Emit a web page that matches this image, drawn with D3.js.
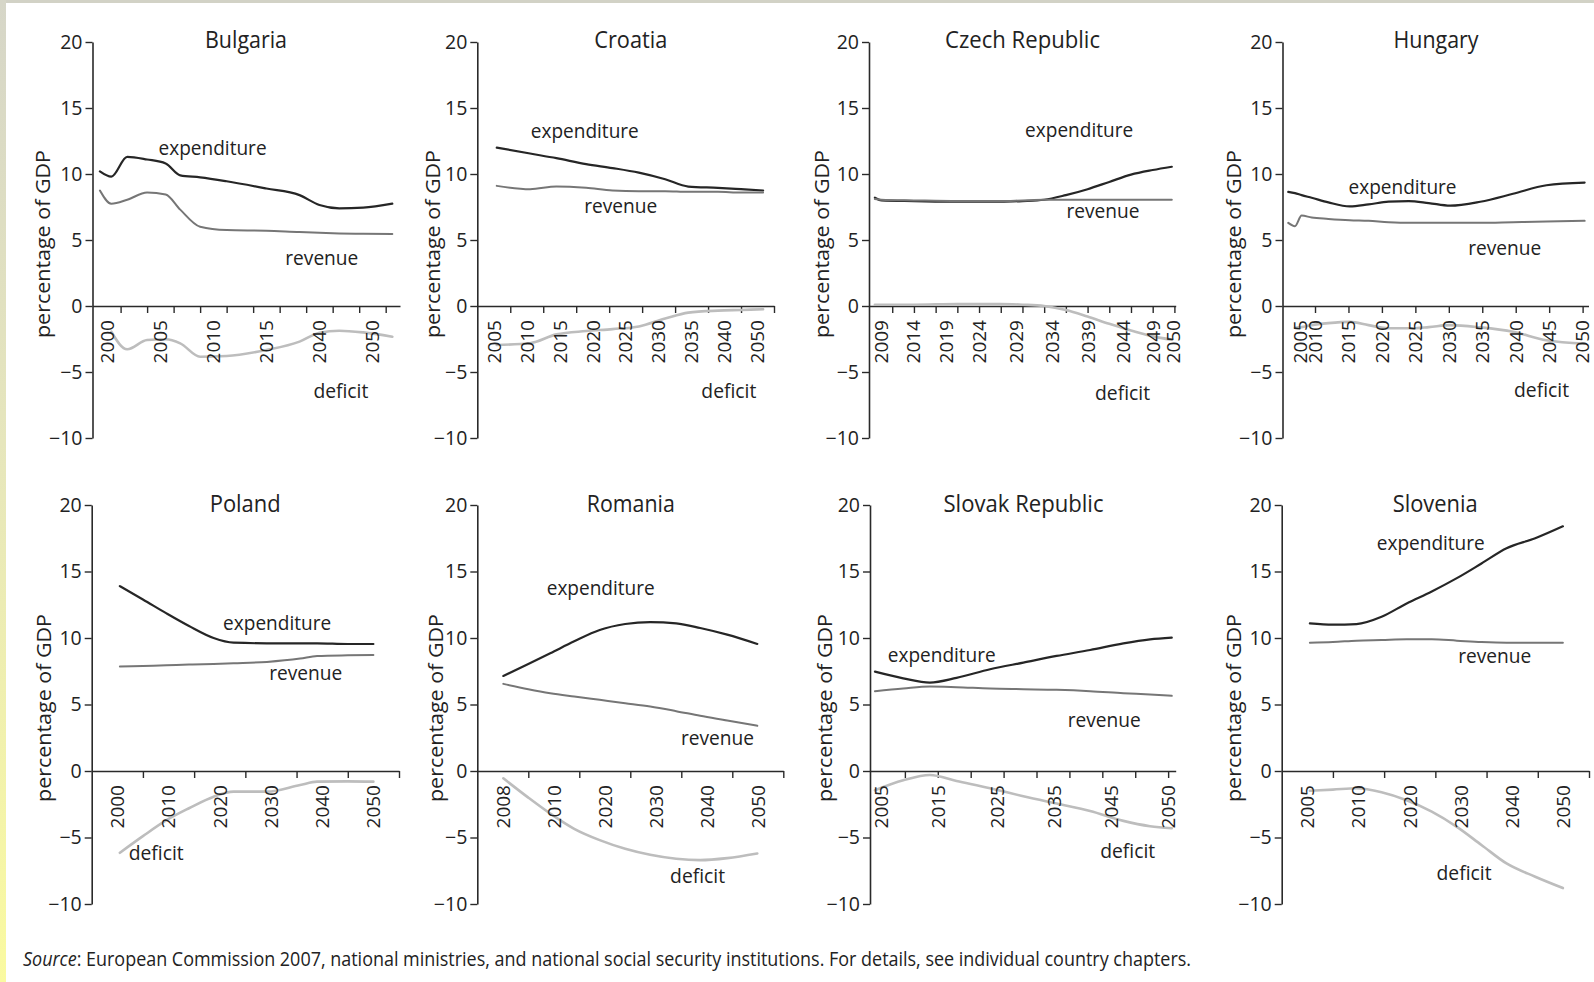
<!DOCTYPE html>
<html><head><meta charset="utf-8">
<script src="https://cdn.jsdelivr.net/npm/d3@7"></script>
<style>
html,body{margin:0;padding:0;background:#fff;}
svg{display:block;font-family:"Open Sans","Noto Sans",sans-serif;}
</style></head>
<body><svg id="c" width="1594" height="982"></svg>
<script>
// ---------------- DATA ----------------
const countries = ["Bulgaria","Croatia","Czech Republic","Hungary","Poland","Romania","Slovak Republic","Slovenia"];
const seriesNames = ["expenditure","revenue","deficit"];
const yTicks = [-10,-5,0,5,10,15,20];

// Bulgaria (x in category slots)
const bgX   = [-0.28, 0.15, 0.75, 1.5, 2.2, 2.75, 3.5, 4.5, 6.0, 7.25, 8.0, 8.75, 9.65, 10.75];
const bgExp = [10.2, 9.8, 11.3, 11.1, 10.8, 9.9, 9.75, 9.45, 8.9, 8.4, 7.65, 7.4, 7.45, 7.75];
const bgRev = [8.75, 7.75, 8.05, 8.6, 8.45, 7.3, 6.0, 5.75, 5.7, 5.6, 5.55, 5.5, 5.47, 5.45];
const bgDef = [null, -1.95, -3.28, -2.58, -2.52, -2.83, -3.84, -3.79, -3.33, -2.7, -2.02, -1.87, -2.0, -2.33];
const bgTicks = [0.5,1.5,2.5,3.5,4.5,5.5,6.5,7.5,8.5,9.5,10.5];
const bgLabels = ["2000","2005","2010","2015","2040","2050"];
const bgLabelPos = [0,2,4,6,8,10];

// Croatia
const hrX   = [0.09, 1.1, 1.9, 2.8, 3.6, 4.4, 5.2, 5.9, 6.8, 7.5, 8.17];
const hrExp = [12.0, 11.55, 11.2, 10.75, 10.45, 10.1, 9.6, 9.05, 8.95, 8.85, 8.75];
const hrRev = [9.1, 8.85, 9.05, 8.95, 8.75, 8.7, 8.7, 8.65, 8.65, 8.6, 8.6];
const hrDef = [-2.95, -2.82, -2.15, -1.9, -1.75, -1.55, -0.95, -0.5, -0.35, -0.3, -0.25];
const hrTicks = [0.5,1.5,2.5,3.5,4.5,5.5,6.5,7.5,8.5];
const hrLabels = ["2005","2010","2015","2020","2025","2030","2035","2040","2050"];
const hrLabelPos = [0,1,2,3,4,5,6,7,8];

// Czech Republic
const czX   = [0.2, 0.5, 2, 4, 6, 7, 8, 9, 10, 11, 12, 13, 13.88];
const czExp = [8.2, 8.0, 7.95, 7.9, 7.9, 7.95, 8.05, 8.4, 8.85, 9.4, 9.95, 10.3, 10.55];
const czRev = [8.1, 8.05, 8.0, 7.95, 7.95, 8.0, 8.05, 8.05, 8.05, 8.05, 8.05, 8.05, 8.05];
const czDef = [0.1, 0.1, 0.1, 0.15, 0.15, 0.1, 0.0, -0.3, -0.8, -1.35, -1.85, -2.3, -2.55];
const czTicks = [1,2,3,4,5,6,7,8,9,10,11,12,13,14];
const czLabels = ["2009","2014","2019","2024","2029","2034","2039","2044","2049","2050"];
const czLabelPos = [0.51, 1.97, 3.47, 5.01, 6.73, 8.39, 10.03, 11.65, 13.03, 13.95];

// Hungary (x in years)
const huX   = [2006, 2007, 2008, 2009.5, 2012, 2015.2, 2018, 2021, 2024, 2027, 2030.2, 2034.7, 2039.6, 2044.6, 2050.3];
const huExp = [8.65, 8.55, 8.4, 8.2, 7.85, 7.55, 7.7, 7.9, 7.95, 7.8, 7.6, 7.9, 8.5, 9.15, 9.35];
const huRev = [6.3, 6.05, 6.85, 6.7, 6.6, 6.5, 6.45, 6.35, 6.3, 6.3, 6.3, 6.3, 6.35, 6.4, 6.45];
const huDef = [null, -1.65, -1.6, -1.45, -1.3, -1.2, -1.45, -1.69, -1.69, -1.6, -1.45, -1.62, -1.95, -2.6, -2.85];
const huTicks = [2010,2015,2020,2025,2030,2035,2040,2045,2050];
const huLabels = ["2005","2010","2015","2020","2025","2030","2035","2040","2045","2050"];
const huLabelPos = [2007.85,2010,2015,2020,2025,2030,2035,2040,2045,2050];

// Poland
const plX   = [0.05, 0.5, 0.96, 1.4, 1.88, 2.27, 2.92, 3.57, 3.9, 4.5, 5.0];
const plExp = [13.9, 12.9, 11.85, 10.9, 10.0, 9.65, 9.6, 9.6, 9.6, 9.55, 9.55];
const plRev = [7.85, 7.9, 7.95, 8.0, 8.05, 8.1, 8.2, 8.45, 8.65, 8.7, 8.72];
const plDef = [-6.15, -4.9, -3.7, -2.8, -1.93, -1.55, -1.55, -1.05, -0.8, -0.78, -0.8];
const plTicks = [0.5,1.5,2.5,3.5,4.5,5.5];
const plLabels = ["2000","2010","2020","2030","2040","2050"];
const plLabelPos = [0,1,2,3,4,5];

// Romania
const roX   = [0.01, 0.5, 0.93, 1.4, 1.9, 2.4, 2.89, 3.4, 3.87, 4.4, 4.99];
const roExp = [7.15, 8.05, 8.85, 9.75, 10.6, 11.05, 11.2, 11.1, 10.75, 10.25, 9.55];
const roRev = [6.55, 6.15, 5.85, 5.6, 5.35, 5.1, 4.85, 4.5, 4.15, 3.8, 3.4];
const roDef = [-0.55, -2.0, -3.2, -4.35, -5.2, -5.85, -6.3, -6.6, -6.7, -6.55, -6.2];
const roTicks = [0.5,1.5,2.5,3.5,4.5,5.5];
const roLabels = ["2008","2010","2020","2030","2040","2050"];
const roLabelPos = [0,1,2,3,4,5];

// Slovak Republic
const skX   = [0.09, 0.95, 1.76, 2.57, 3.59, 4.6, 5.61, 6.63, 7.64, 8.45, 9.11];
const skExp = [7.47, 6.97, 6.65, 7.0, 7.65, 8.15, 8.65, 9.1, 9.6, 9.9, 10.03];
const skRev = [6.0, 6.2, 6.35, 6.3, 6.2, 6.15, 6.1, 6.0, 5.85, 5.75, 5.65];
const skDef = [-1.45, -0.7, -0.3, -0.75, -1.3, -1.9, -2.45, -3.0, -3.75, -4.15, -4.3];
const skTicks = [1,2,3,4,5,6,7,8,9];
const skLabels = ["2005","2015","2025","2035","2045","2050"];
const skLabelPos = [0.29, 2.02, 3.81, 5.54, 7.26, 9.0];

// Slovenia
const siX   = [0.05, 0.5, 0.96, 1.45, 1.94, 2.43, 2.92, 3.4, 3.89, 4.45, 4.99];
const siExp = [11.1, 11.0, 11.05, 11.6, 12.6, 13.5, 14.5, 15.6, 16.75, 17.5, 18.4];
const siRev = [9.65, 9.7, 9.8, 9.85, 9.9, 9.9, 9.8, 9.7, 9.65, 9.65, 9.65];
const siDef = [-1.48, -1.4, -1.3, -1.6, -2.2, -3.06, -4.2, -5.56, -6.95, -7.95, -8.8];
const siTicks = [0.5,1.5,2.5,3.5,4.5,5.5];
const siLabels = ["2005","2010","2020","2030","2040","2050"];
const siLabelPos = [0,1,2,3,4,5];

const sourceText = ": European Commission 2007, national ministries, and national social security institutions. For details, see individual country chapters.";

// ---------------- LAYOUT (positions/styles) ----------------
const rows = [
  {y20: 42, yM10: 438, titleY: 48.3, yTitleY: 244},
  {y20: 505, yM10: 904, titleY: 511.7, yTitleY: 708}
];
const panels = [
  {name:"Bulgaria", row:0, x0:92.5, x1:400, dom:[-0.56,11.04], X:bgX, S:[bgExp,bgRev,bgDef], ticks:bgTicks, labels:bgLabels, lpos:bgLabelPos,
   ann:[[3.97,11.44],[8.09,3.1],[8.81,-6.97]], tw:82, ytDx:-50},
  {name:"Croatia", row:0, x0:477.3, x1:774, dom:[-0.5,8.5], X:hrX, S:[hrExp,hrRev,hrDef], ticks:hrTicks, labels:hrLabels, lpos:hrLabelPos,
   ann:[[2.76,12.73],[3.85,7.05],[7.13,-6.97]], tw:73, ytDx:-44.5},
  {name:"Czech Republic", row:0, x0:869, x1:1175.7, dom:[-0.07,14.06], X:czX, S:[czExp,czRev,czDef], ticks:czTicks, labels:czLabels, lpos:czLabelPos,
   ann:[[9.61,12.83],[10.71,6.64],[11.61,-7.12]], tw:155, ytDx:-47.7},
  {name:"Hungary", row:0, x0:1282.5, x1:1588.5, dom:[2005.14,2050.88], X:huX, S:[huExp,huRev,huDef], ticks:huTicks, labels:huLabels, lpos:huLabelPos,
   ann:[[2023.08,8.46],[2038.36,3.86],[2043.86,-6.87]], tw:85, ytDx:-49.2},
  {name:"Poland", row:1, x0:91.7, x1:399, dom:[-0.5,5.5], X:plX, S:[plExp,plRev,plDef], ticks:plTicks, labels:plLabels, lpos:plLabelPos,
   ann:[[3.12,10.6],[3.68,6.84],[0.76,-6.69]], tw:71, ytDx:-48.4},
  {name:"Romania", row:1, x0:477.3, x1:783.3, dom:[-0.5,5.5], X:roX, S:[roExp,roRev,roDef], ticks:roTicks, labels:roLabels, lpos:roLabelPos,
   ann:[[1.92,13.23],[4.21,1.95],[3.82,-8.44]], tw:88, ytDx:-41.5},
  {name:"Slovak Republic", row:1, x0:870, x1:1175.7, dom:[-0.06,9.23], X:skX, S:[skExp,skRev,skDef], ticks:skTicks, labels:skLabels, lpos:skLabelPos,
   ann:[[2.12,8.22],[7.06,3.33],[7.77,-6.56]], tw:160, ytDx:-45.8},
  {name:"Slovenia", row:1, x0:1281.7, x1:1589, dom:[-0.5,5.5], X:siX, S:[siExp,siRev,siDef], ticks:siTicks, labels:siLabels, lpos:siLabelPos,
   ann:[[2.41,16.62],[3.66,8.1],[3.06,-8.2]], tw:85, ytDx:-48.4}
];
const lineStyle = [
  {stroke:"#262626", width:2.2},
  {stroke:"#767676", width:2.0},
  {stroke:"#bdbdbd", width:2.6}
];
const annWidth = [108, 73, 55];
const textColor = "#222";
const axisColor = "#2a2a2a";

// ---------------- DRAW ----------------
const svg = d3.select("#c");
const defs = svg.append("defs");
const grad = defs.append("linearGradient").attr("id","lg").attr("x1",0).attr("y1",0).attr("x2",0).attr("y2",1);
grad.append("stop").attr("offset","0%").attr("stop-color","#d6d6c8");
grad.append("stop").attr("offset","45%").attr("stop-color","#e6e6bc");
grad.append("stop").attr("offset","100%").attr("stop-color","#fafaa0");
svg.append("rect").attr("x",0).attr("y",0).attr("width",1594).attr("height",982).attr("fill","#fff");
svg.append("rect").attr("x",0).attr("y",0).attr("width",1594).attr("height",3).attr("fill","#d2d2c6");
svg.append("rect").attr("x",0).attr("y",0).attr("width",6).attr("height",982).attr("fill","url(#lg)");

const fmt = d => d < 0 ? "\u2212" + Math.abs(d) : String(d);

panels.forEach(p => {
  const r = rows[p.row];
  const y = d3.scaleLinear().domain([-10,20]).range([r.yM10, r.y20]);
  const x = d3.scaleLinear().domain(p.dom).range([p.x0, p.x1]);
  const g = svg.append("g");
  const y0 = y(0);

  // y axis
  const ya = g.append("g").attr("transform",`translate(${p.x0},0)`)
    .call(d3.axisLeft(y).tickValues(yTicks).tickSize(7).tickSizeOuter(0).tickPadding(3).tickFormat(fmt));
  ya.select(".domain").attr("stroke",axisColor).attr("stroke-width",1.6);
  ya.selectAll(".tick line").attr("stroke",axisColor).attr("stroke-width",1.4);
  ya.selectAll(".tick text").attr("font-size",19.5).attr("fill",textColor)
    .attr("font-family","'Open Sans',sans-serif");

  // x axis at zero
  const xa = g.append("g").attr("transform",`translate(0,${y0})`)
    .call(d3.axisBottom(x).tickValues(p.ticks).tickSize(7).tickSizeOuter(0).tickFormat(""));
  xa.select(".domain").attr("stroke",axisColor).attr("stroke-width",1.6);
  xa.selectAll(".tick line").attr("stroke",axisColor).attr("stroke-width",1.4);

  // lines
  p.S.forEach((vals, i) => {
    const pts = p.X.map((xv, k) => [xv, vals[k]]);
    const line = d3.line().defined(d => d[1] != null)
      .x(d => x(d[0])).y(d => y(d[1])).curve(d3.curveMonotoneX);
    g.append("path").attr("d", line(pts)).attr("fill","none")
      .attr("stroke", lineStyle[i].stroke).attr("stroke-width", lineStyle[i].width)
      .attr("stroke-linejoin","round").attr("stroke-linecap","round");
  });

  // rotated x labels
  const ly = y0 + 14;
  p.labels.forEach((t, k) => {
    const lx = x(p.lpos[k]);
    g.append("text").text(t)
      .attr("x", lx).attr("y", ly)
      .attr("transform", `rotate(-90,${lx},${ly})`)
      .attr("text-anchor","end").attr("dy","0.36em")
      .attr("font-size",19).attr("fill",textColor);
  });

  // title
  g.append("text").text(p.name)
    .attr("x", p.x0 + 153.5).attr("y", r.titleY)
    .attr("text-anchor","middle").attr("font-size",23).attr("fill",textColor)
    .attr("textLength", p.tw).attr("lengthAdjust","spacingAndGlyphs");

  // y title
  const tx = p.x0 + p.ytDx, ty = r.yTitleY;
  g.append("text").text("percentage of GDP")
    .attr("x", tx).attr("y", ty)
    .attr("transform", `rotate(-90,${tx},${ty})`)
    .attr("text-anchor","middle").attr("dominant-baseline","central")
    .attr("font-size",20).attr("fill",textColor)
    .attr("textLength",188).attr("lengthAdjust","spacingAndGlyphs");

  // series annotations
  p.ann.forEach((a, i) => {
    g.append("text").text(seriesNames[i])
      .attr("x", x(a[0])).attr("y", y(a[1]))
      .attr("text-anchor","middle").attr("font-size",20).attr("fill",textColor)
      .attr("textLength", annWidth[i]).attr("lengthAdjust","spacingAndGlyphs");
  });
});

// source note
const src = svg.append("text").attr("x",23).attr("y",966)
  .attr("font-size",19.5).attr("fill",textColor)
  .attr("textLength",1168).attr("lengthAdjust","spacingAndGlyphs");
src.append("tspan").attr("font-style","italic").text("Source");
src.append("tspan").text(sourceText);
</script>
</body></html>
